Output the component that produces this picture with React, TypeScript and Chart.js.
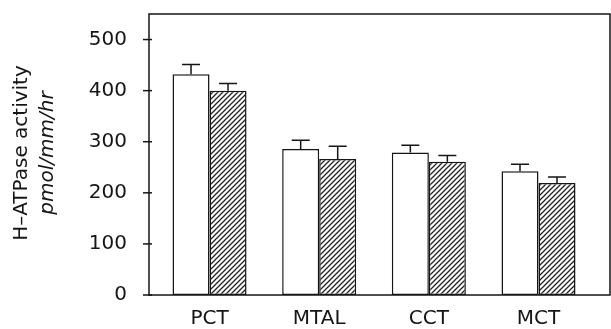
import React, { useEffect, useRef } from "react";
import { Chart, registerables } from "chart.js";

Chart.register(...registerables);

const categories = ["PCT", "MTAL", "CCT", "MCT"];
const controlValues = [432, 286, 279, 242];
const controlErrors = [19, 17, 14, 14];
const treatedValues = [400, 266, 261, 219];
const treatedErrors = [14, 25, 12, 12];
const yTicks = [0, 100, 200, 300, 400, 500];

const FONT = "'DejaVu Sans', sans-serif";
const INK = "#151515";

function makeHatch(): CanvasPattern | string {
  const p = 5;
  const c = document.createElement("canvas");
  c.width = p;
  c.height = p;
  const ctx = c.getContext("2d");
  if (!ctx) return "#fff";
  ctx.fillStyle = "#fff";
  ctx.fillRect(0, 0, p, p);
  ctx.strokeStyle = "#222";
  ctx.lineWidth = 1.3;
  ctx.beginPath();
  ctx.moveTo(-1, p + 1);
  ctx.lineTo(p + 1, -1);
  ctx.moveTo(-1, 1);
  ctx.lineTo(1, -1);
  ctx.moveTo(p - 1, p + 1);
  ctx.lineTo(p + 1, p - 1);
  ctx.stroke();
  const pat = ctx.createPattern(c, "repeat");
  return pat || "#fff";
}

export default function App() {
  const ref = useRef<HTMLCanvasElement | null>(null);

  useEffect(() => {
    if (!ref.current) return;
    const hatch = makeHatch();
    const errs = [controlErrors, treatedErrors];

    const decor = {
      id: "decor",
      afterDatasetsDraw(chart: any) {
        const ctx = chart.ctx;
        const a = chart.chartArea;
        ctx.save();
        ctx.strokeStyle = INK;
        ctx.lineWidth = 1.5;
        chart.data.datasets.forEach((ds: any, di: number) => {
          const meta = chart.getDatasetMeta(di);
          meta.data.forEach((bar: any, i: number) => {
            const v = ds.data[i].y;
            const yTop = chart.scales.y.getPixelForValue(v + errs[di][i]);
            ctx.beginPath();
            ctx.moveTo(bar.x, bar.y);
            ctx.lineTo(bar.x, yTop);
            ctx.moveTo(bar.x - 9, yTop);
            ctx.lineTo(bar.x + 9, yTop);
            ctx.stroke();
          });
        });
        ctx.strokeRect(a.left, a.top, a.right - a.left, a.bottom - a.top);
        yTicks.forEach((t) => {
          const y = chart.scales.y.getPixelForValue(t);
          ctx.beginPath();
          ctx.moveTo(a.left - 6, y);
          ctx.lineTo(a.left + 3, y);
          ctx.stroke();
        });
        ctx.fillStyle = INK;
        ctx.textAlign = "center";
        ctx.textBaseline = "middle";
        ctx.translate(22, 153);
        ctx.rotate(-Math.PI / 2);
        ctx.font = `20px ${FONT}`;
        ctx.fillText("H\u2013ATPase activity", 0, 0);
        ctx.font = `italic 20px ${FONT}`;
        ctx.fillText("pmol/mm/hr", 0, 26);
        ctx.restore();
      },
    };

    const chart = new Chart(ref.current, {
      type: "bar",
      data: {
        datasets: [
          {
            label: "control",
            data: controlValues.map((v, i) => ({ x: i, y: v })),
            backgroundColor: "#fff",
            borderColor: INK,
            borderWidth: 1.5,
            borderSkipped: false,
          },
          {
            label: "treated",
            data: treatedValues.map((v, i) => ({ x: i, y: v })),
            backgroundColor: hatch as any,
            borderColor: INK,
            borderWidth: 1.5,
            borderSkipped: false,
          },
        ],
      },
      options: {
        animation: false,
        responsive: false,
        maintainAspectRatio: false,
        barPercentage: 1,
        categoryPercentage: 0.675,
        layout: { padding: { top: 14, right: 1, left: 0, bottom: 0 } },
        plugins: { legend: { display: false }, tooltip: { enabled: false } },
        scales: {
          x: {
            type: "linear",
            offset: false,
            min: -0.552,
            max: 3.652,
            afterBuildTicks: (s: any) => {
              s.ticks = categories.map((_, i) => ({ value: i }));
            },
            afterFit: (s: any) => {
              s.height = 34;
              s.paddingLeft = 0;
              s.paddingRight = 0;
            },
            grid: { display: false, drawTicks: false },
            border: { display: false },
            ticks: {
              padding: 12,
              color: INK,
              font: { family: FONT, size: 20 },
              callback: (v: any) => categories[v] ?? "",
              maxRotation: 0,
              autoSkip: false,
            },
          },
          y: {
            min: 0,
            max: 550,
            afterBuildTicks: (s: any) => {
              s.ticks = yTicks.map((v) => ({ value: v }));
            },
            afterFit: (s: any) => {
              s.width = 149;
              s.paddingTop = 0;
              s.paddingBottom = 0;
            },
            grid: { display: false, drawTicks: false },
            border: { display: false },
            ticks: {
              padding: 22,
              color: INK,
              font: { family: FONT, size: 20 },
            },
          },
        },
      },
      plugins: [decor],
    });
    return () => chart.destroy();
  }, []);

  return (
    <div style={{ position: "fixed", left: 0, top: 0, width: 611, height: 329, background: "#fff" }}>
      <canvas ref={ref} width={611} height={329} style={{ display: "block" }} />
    </div>
  );
}
